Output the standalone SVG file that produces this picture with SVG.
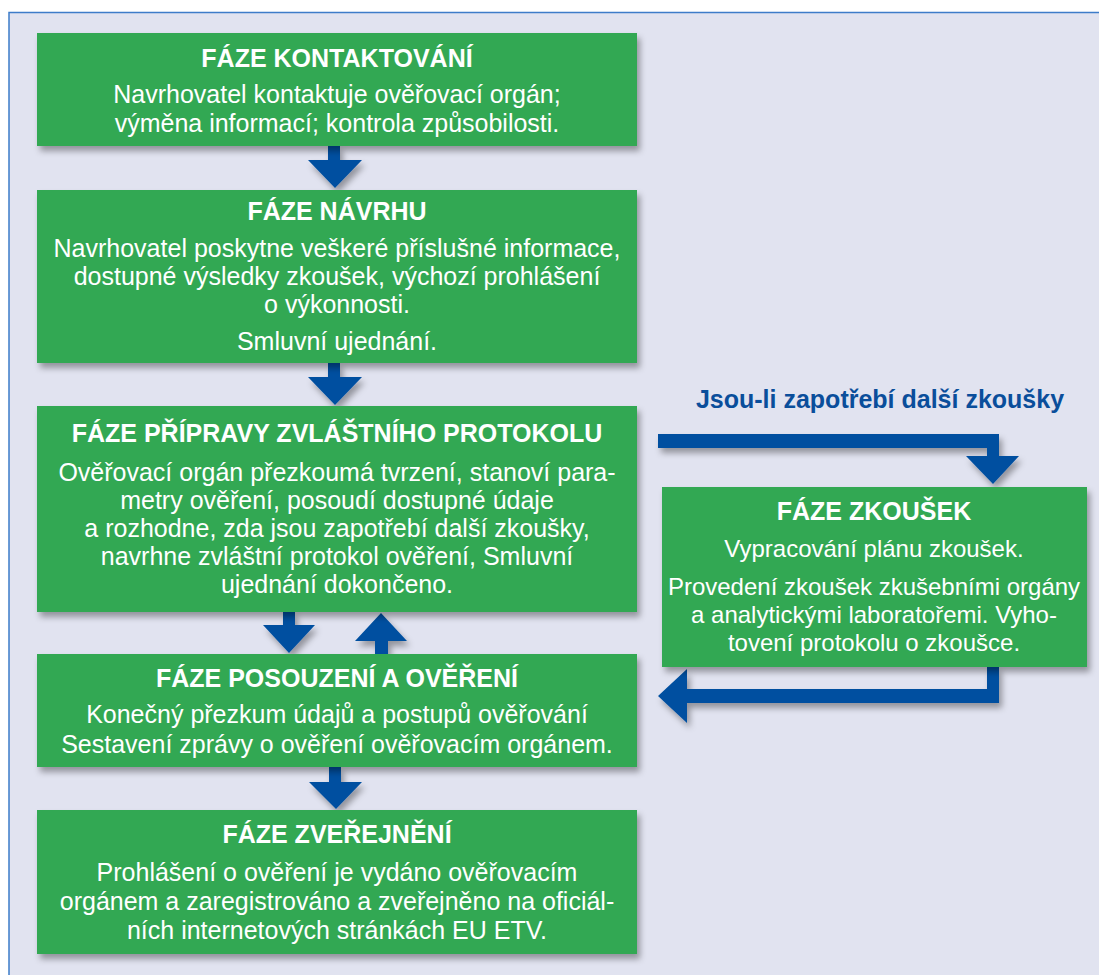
<svg xmlns="http://www.w3.org/2000/svg" width="1099" height="975" viewBox="0 0 1099 975">
  <defs>
    <filter id="sh" x="-10%" y="-10%" width="125%" height="135%">
      <feDropShadow dx="3" dy="5" stdDeviation="3" flood-color="#000" flood-opacity="0.35"/>
    </filter>
    <style>
      .box { fill: #33a853; filter: url(#sh); }
      .arrow { fill: #0050a0; filter: url(#sh); }
      .title { font-family: "Liberation Sans", Arial, sans-serif; font-weight: bold; font-size: 25px; fill: #ffffff; text-anchor: middle; }
      .body { font-family: "Liberation Sans", Arial, sans-serif; font-size: 25px; fill: #ffffff; text-anchor: middle; }
      .body2 { font-family: "Liberation Sans", Arial, sans-serif; font-size: 24px; fill: #ffffff; text-anchor: middle; }
      .label { font-family: "Liberation Sans", Arial, sans-serif; font-weight: bold; font-size: 25px; fill: #0a4e9b; text-anchor: middle; }
    </style>
  </defs>
  <rect x="0" y="0" width="1099" height="975" fill="#ffffff"/>
  <rect x="9" y="12.5" width="1095" height="970" fill="#e1e3f0" stroke="#3d7cc9" stroke-width="1.5"/>

  <g id="connectors">
    <!-- box1 -> box2 -->
    <polygon class="arrow" points="328,146 340,146 340,160 362,160 335,188 308,160 328,160"/>
    <!-- box2 -> box3 -->
    <polygon class="arrow" points="328,363 340,363 340,377 362,377 335,405 308,377 328,377"/>
    <!-- box3 -> box4 -->
    <polygon class="arrow" points="283,612 295,612 295,625 315,625 289,653 263,625 283,625"/>
    <!-- box4 -> box3 -->
    <polygon class="arrow" points="375,654 388,654 388,641 407,641 381,613 355,641 375,641"/>
    <!-- box4 -> box5 -->
    <polygon class="arrow" points="329,767 341,767 341,782 362,782 336,809 309,782 329,782"/>
    <!-- box3 -> tests -->
    <polygon class="arrow" points="658,434 999,434 999,456 1019,456 993,484 966,456 987,456 987,448 658,448"/>
    <!-- tests -> box4 -->
    <polygon class="arrow" points="987,667 999,667 999,703 687,703 687,723 658,696 687,669 687,689 987,689"/>
    <text class="label" x="880" y="408">Jsou-li zapotřebí další zkoušky</text>
  </g>

  <g id="node-kontaktovani">
    <rect class="box" x="37" y="33" width="600" height="113"/>
    <text class="title" x="337" y="67">FÁZE KONTAKTOVÁNÍ</text>
    <text class="body" x="337" y="103">Navrhovatel kontaktuje ověřovací orgán;</text>
    <text class="body" x="337" y="132">výměna informací; kontrola způsobilosti.</text>
  </g>

  <g id="node-navrh">
    <rect class="box" x="37" y="190" width="600" height="173"/>
    <text class="title" x="337" y="220">FÁZE NÁVRHU</text>
    <text class="body" x="337" y="257">Navrhovatel poskytne veškeré příslušné informace,</text>
    <text class="body" x="337" y="285">dostupné výsledky zkoušek, výchozí prohlášení</text>
    <text class="body" x="337" y="313">o výkonnosti.</text>
    <text class="body" x="337" y="350">Smluvní ujednání.</text>
  </g>

  <g id="node-protokol">
    <rect class="box" x="37" y="406" width="600" height="206"/>
    <text class="title" x="337" y="442">FÁZE PŘÍPRAVY ZVLÁŠTNÍHO PROTOKOLU</text>
    <text class="body" x="337" y="481">Ověřovací orgán přezkoumá tvrzení, stanoví para-</text>
    <text class="body" x="337" y="509">metry ověření, posoudí dostupné údaje</text>
    <text class="body" x="337" y="537">a rozhodne, zda jsou zapotřebí další zkoušky,</text>
    <text class="body" x="337" y="565">navrhne zvláštní protokol ověření, Smluvní</text>
    <text class="body" x="337" y="593">ujednání dokončeno.</text>
  </g>

  <g id="node-zkousky">
    <rect class="box" x="662" y="487" width="425" height="180"/>
    <text class="title" x="874" y="520">FÁZE ZKOUŠEK</text>
    <text class="body2" x="874" y="557">Vypracování plánu zkoušek.</text>
    <text class="body2" x="874" y="595">Provedení zkoušek zkušebními orgány</text>
    <text class="body2" x="874" y="623">a analytickými laboratořemi. Vyho-</text>
    <text class="body2" x="874" y="651">tovení protokolu o zkoušce.</text>
  </g>

  <g id="node-overeni">
    <rect class="box" x="37" y="654" width="600" height="113"/>
    <text class="title" x="337" y="687">FÁZE POSOUZENÍ A OVĚŘENÍ</text>
    <text class="body" x="337" y="723">Konečný přezkum údajů a postupů ověřování</text>
    <text class="body" x="337" y="753">Sestavení zprávy o ověření ověřovacím orgánem.</text>
  </g>

  <g id="node-zverejneni">
    <rect class="box" x="37" y="810" width="600" height="144"/>
    <text class="title" x="337" y="843">FÁZE ZVEŘEJNĚNÍ</text>
    <text class="body" x="337" y="881">Prohlášení o ověření je vydáno ověřovacím</text>
    <text class="body" x="337" y="910">orgánem a zaregistrováno a zveřejněno na oficiál-</text>
    <text class="body" x="337" y="939">ních internetových stránkách EU ETV.</text>
  </g>
</svg>
